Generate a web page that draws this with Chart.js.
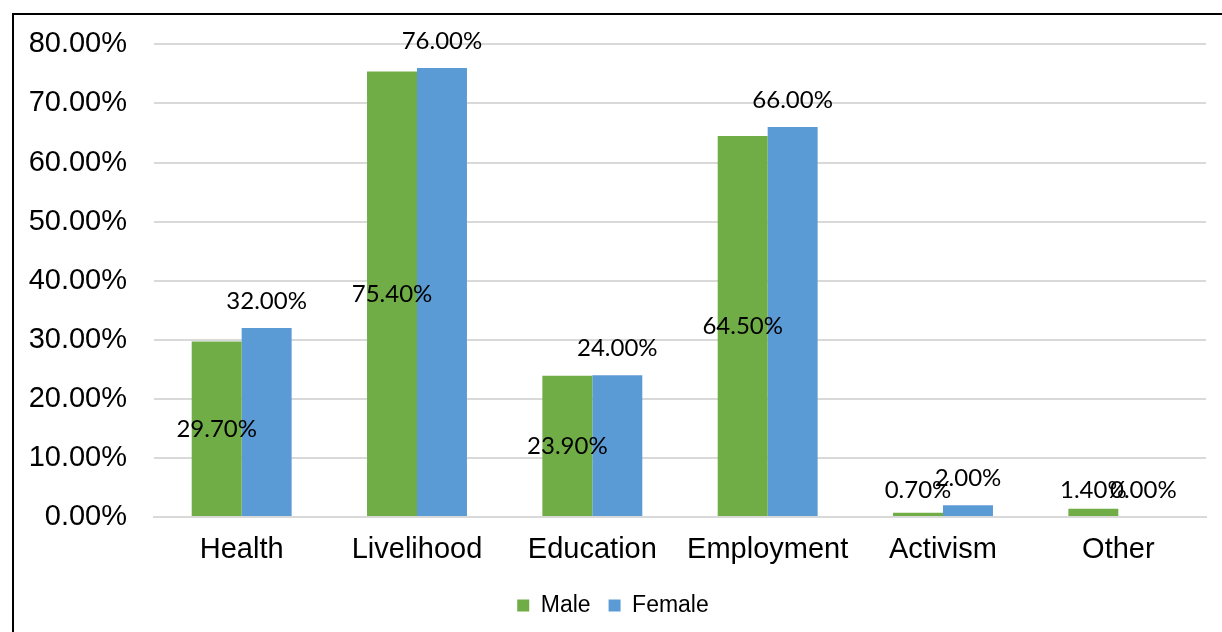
<!DOCTYPE html>
<html>
<head>
<meta charset="utf-8">
<script src="https://cdn.jsdelivr.net/npm/chart.js@4"></script>
<style>
  html, body { margin: 0; padding: 0; background: #fff; overflow: hidden; }
  #frame {
    position: absolute; left: 12px; top: 13px; width: 1230px; height: 640px;
    border: 2px solid #000; box-sizing: border-box;
  }
  #wrap { position: absolute; left: 0; top: 0; width: 1222px; height: 632px; }
</style>
</head>
<body>
<div id="frame"></div>
<div id="wrap"><canvas id="chart"></canvas></div>
<script>
const categories = ['Health', 'Livelihood', 'Education', 'Employment', 'Activism', 'Other'];
const male = [29.7, 75.4, 23.9, 64.5, 0.7, 1.4];
const female = [32.0, 76.0, 24.0, 66.0, 2.0, 0.0];
const yTicks = [0, 10, 20, 30, 40, 50, 60, 70, 80];

const fmt = v => v.toFixed(2) + '%';

// Excel-style data labels: male in the middle of the bar, female above its end
const barLabels = {
    id: 'barLabels',
    afterDatasetsDraw(chart) {
        const ctx = chart.ctx;
        const base = chart.scales.y.getPixelForValue(0);
        ctx.save();
        ctx.font = '24px Lato';
        ctx.fillStyle = '#000';
        ctx.textAlign = 'center';
        ctx.textBaseline = 'middle';
        chart.data.datasets.forEach((ds, i) => {
            chart.getDatasetMeta(i).data.forEach((bar, j) => {
                let y;
                if (i === 0) {
                    y = Math.min((bar.y + base) / 2, base - 27);
                } else {
                    y = bar.y - 27;
                }
                ctx.fillText(fmt(ds.data[j]), bar.x, y);
            });
        });
        ctx.restore();
    }
};

const chart = document.querySelector('#chart').getContext('2d');

new Chart(chart, {
    type: 'bar',
    data: {
        labels: categories,
        datasets: [
            {
                label: 'Male',
                data: male,
                backgroundColor: '#70AD47',
                categoryPercentage: 0.57,
                barPercentage: 1.0
            },
            {
                label: 'Female',
                data: female,
                backgroundColor: '#5B9BD5',
                categoryPercentage: 0.57,
                barPercentage: 1.0
            }
        ]
    },
    options: {
        responsive: true,
        maintainAspectRatio: false,
        animation: false,
        layout: { padding: { left: 20, right: 16, top: 44, bottom: 5 } },
        plugins: {
            legend: {
                position: 'bottom',
                labels: {
                    font: { family: 'Liberation Sans', size: 23 },
                    color: '#000',
                    boxWidth: 12,
                    boxHeight: 12,
                    padding: 18
                }
            },
            tooltip: { enabled: false }
        },
        scales: {
            x: {
                grid: { display: false },
                border: { color: '#d9d9d9', width: 2 },
                ticks: {
                    font: { family: 'Liberation Sans', size: 29 },
                    color: '#000',
                    padding: 8
                },
                afterFit: s => { s.height = 59; }
            },
            y: {
                min: 0,
                max: 80,
                grid: { color: '#d9d9d9', lineWidth: 2, drawTicks: false },
                border: { display: false },
                afterBuildTicks: s => { s.ticks = yTicks.map(v => ({ value: v })); },
                ticks: {
                    font: { family: 'Liberation Sans', size: 29 },
                    color: '#000',
                    padding: 27,
                    callback: v => fmt(v)
                },
                afterFit: s => { s.width = 134; }
            }
        }
    },
    plugins: [barLabels]
});
</script>
</body>
</html>
